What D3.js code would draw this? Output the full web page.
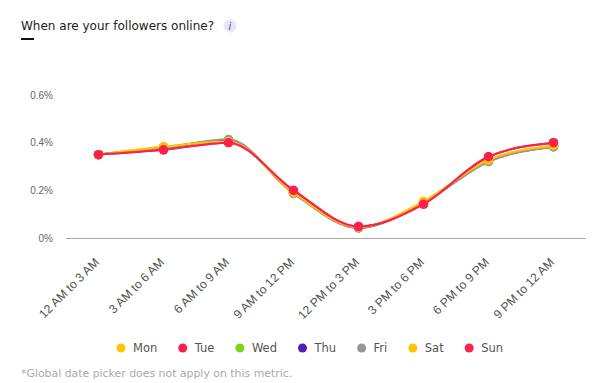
<!DOCTYPE html>
<html>
<head>
<meta charset="utf-8">
<script src="https://cdn.jsdelivr.net/npm/d3@7"></script>
<style>
  body { margin: 0; background: #fff; }
  svg { display: block; font-family: "DejaVu Sans", sans-serif; }
  .axis--y path, .axis--y line, .axis--x line { display: none; }
  .axis--x path { stroke: #aaa; }
  .axis text { fill: #555; }
  .axis--x text { font-size: 12.2px; }
  .axis--y text { font-size: 10px; fill: #666; }
</style>
</head>
<body>
<div id="chart"></div>
<script>
// data
const slots = ['12 AM to 3 AM', '3 AM to 6 AM', '6 AM to 9 AM', '9 AM to 12 PM', '12 PM to 3 PM', '3 PM to 6 PM', '6 PM to 9 PM', '9 PM to 12 AM'];
const days = ['Mon', 'Tue', 'Wed', 'Thu', 'Fri', 'Sat', 'Sun'];
const colors = ['#ffc400', '#ff1f4b', '#7ed321', '#4f1fb5', '#969696', '#ffc400', '#ff1f4b'];
const mon = [0.35, 0.383, 0.405, 0.19, 0.045, 0.153, 0.327, 0.387];
const tue = [0.35, 0.37, 0.40, 0.20, 0.048, 0.142, 0.341, 0.40];
const wed = [0.35, 0.38, 0.408, 0.19, 0.044, 0.15, 0.325, 0.385];
const thu = [0.35, 0.378, 0.41, 0.188, 0.043, 0.148, 0.322, 0.383];
const fri = [0.35, 0.378, 0.414, 0.187, 0.042, 0.148, 0.32, 0.383];
const sat = [0.35, 0.383, 0.405, 0.19, 0.045, 0.153, 0.327, 0.387];
const sun = [0.35, 0.37, 0.40, 0.20, 0.048, 0.142, 0.341, 0.40];
const series = [mon, tue, wed, thu, fri, sat, sun];
const yTicks = [0, 0.2, 0.4, 0.6];

// dimensions
const width = 605;
const height = 383;
const marginLeft = 66;
const marginRight = 19;
const baseY = 238;
const topY = 95;

const $svg = d3.select('#chart').append('svg').attr('width', width).attr('height', height);

// title
$svg.append('text').attr('x', 21).attr('y', 30).attr('fill', '#222').style('font-size', '12px')
  .text('When are your followers online?');
$svg.append('rect').attr('x', 21).attr('y', 38).attr('width', 13).attr('height', 2).attr('fill', '#111');
$svg.append('circle').attr('cx', 230).attr('cy', 26).attr('r', 6.5).attr('fill', '#e9e7ef');
$svg.append('text').attr('x', 230).attr('y', 30).attr('text-anchor', 'middle').attr('fill', '#5b2fc0')
  .style('font-size', '10px').style('font-style', 'italic').text('i');

// scales
const scaleX = d3.scalePoint().domain(slots).range([marginLeft, width - marginRight]).padding(0.5);
const scaleY = d3.scaleLinear().domain([0, 0.6]).range([baseY, topY]);

// axes
const axisX = d3.axisBottom(scaleX).tickSize(0);
const axisY = d3.axisLeft(scaleY).tickValues(yTicks).tickSize(0).tickFormat(d => `${d}%`);

const $x = $svg.append('g').attr('class', 'axis axis--x').attr('transform', `translate(0, ${baseY})`).call(axisX);
$x.select('.domain').attr('d', `M${marginLeft},0.5H${width - marginRight}`);
$x.selectAll('text')
  .attr('text-anchor', 'end')
  .attr('dx', 0)
  .attr('dy', 0)
  .attr('y', 0)
  .attr('transform', 'translate(1, 25) rotate(-45)');

$svg.append('g').attr('class', 'axis axis--y').attr('transform', 'translate(56, 0)').call(axisY)
  .select('.domain').remove();

// lines
const generateLine = d3.line()
  .curve(d3.curveMonotoneX)
  .x((d, i) => scaleX(slots[i]))
  .y(d => scaleY(d));

const $day = $svg.selectAll('.day').data(series).join('g').attr('class', 'day');
$day.append('path')
  .attr('d', generateLine)
  .attr('fill', 'none')
  .attr('stroke', (d, i) => colors[i])
  .attr('stroke-width', 2);
$day.each(function (d, i) {
  d3.select(this).selectAll('circle').data(d).join('circle')
    .attr('cx', (v, j) => scaleX(slots[j]))
    .attr('cy', v => scaleY(v))
    .attr('r', 4.7)
    .attr('fill', colors[i]);
});

// legend
const $legend = $svg.append('g').attr('class', 'legend').attr('transform', 'translate(0, 348)');
let legendX = 121;
days.forEach((day, i) => {
  $legend.append('circle').attr('cx', legendX).attr('r', 4.5).attr('fill', colors[i]);
  const $t = $legend.append('text').attr('x', legendX + 12).attr('y', 4).attr('fill', '#555')
    .style('font-size', '11.5px').text(day);
  legendX += 12 + $t.node().getComputedTextLength() + 25.5;
});

// footnote
$svg.append('text').attr('x', 21).attr('y', 377).attr('fill', '#aaa').style('font-size', '10.9px')
  .text('*Global date picker does not apply on this metric.');
</script>
</body>
</html>
